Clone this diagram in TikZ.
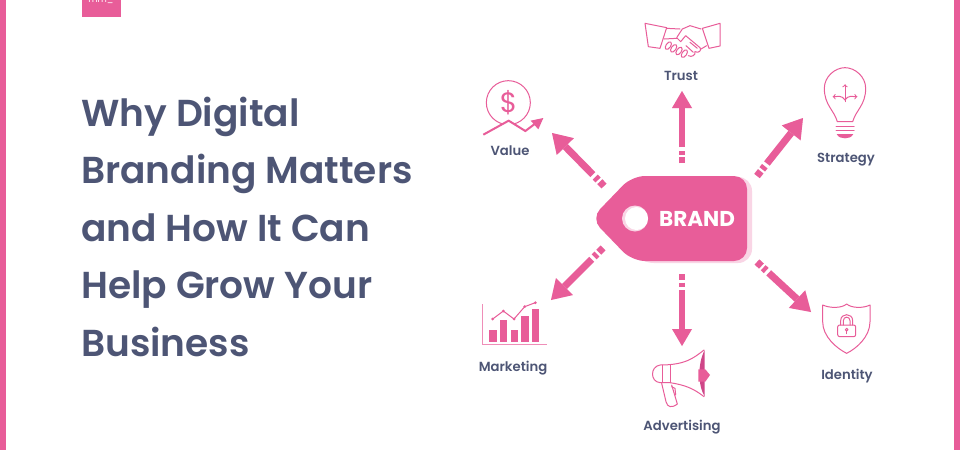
\documentclass[tikz,border=0pt]{standalone}
\usepackage{fontspec}
\setmainfont{Poppins}[BoldFont={Poppins SemiBold}]
\newfontfamily\brandbold{Poppins Bold}
\usetikzlibrary{calc}
\definecolor{brandpink}{HTML}{E85D99}
\definecolor{darkpink}{HTML}{CF4688}
\definecolor{paleshadow}{HTML}{F9D5E5}
\definecolor{slatetext}{HTML}{4D5575}
\tikzset{
  titletext/.style={anchor=base west,text=slatetext,font=\fontsize{37.5}{40}\selectfont\bfseries,inner sep=0pt},
  iconlabel/.style={anchor=base,text=slatetext,font=\fontsize{13.2}{15}\selectfont\bfseries,inner sep=0pt},
  iconline/.style={draw=brandpink,line width=1pt,line join=round,line cap=round},
  iconthin/.style={draw=brandpink,line width=1pt,line join=round,line cap=round},
  zoomed/.style={x=0.33333pt,y=-0.33333pt}
}
% tail, tip, colour, offset, shaft width, head half width, head length
\newcommand{\brandarrowlayer}[7]{%
  \coordinate (hb) at ($(#2)!#7!(#1)$);
  \coordinate (hl) at ($(hb)!#6!90:(#2)$);
  \coordinate (hr) at ($(hb)!#6!-90:(#2)$);
  \coordinate (s0) at ($(#1)!16pt!(#2)$);
  \coordinate (d1a) at ($(#1)!6pt!(#2)$);
  \coordinate (d1b) at ($(#1)!0pt!(#2)$);
  \coordinate (d2a) at ($(#1)!12.5pt!(#2)$);
  \coordinate (d2b) at ($(#1)!8.5pt!(#2)$);
  \fill[#3,shift={(#4)}] (#2) -- (hl) -- (hr) -- cycle;
  \draw[#3,line width=#5,shift={(#4)}] (s0) -- (hb);
  \draw[#3,line width=#5,shift={(#4)}] (d1b) -- (d1a);
  \draw[#3,line width=#5,shift={(#4)}] (d2b) -- (d2a);
}
\newcommand{\brandarrow}[6]{%
  \brandarrowlayer{#1}{#2}{paleshadow}{#3}{#4}{#5}{#6}
  \brandarrowlayer{#1}{#2}{brandpink}{0pt,0pt}{#4}{#5}{#6}
}
\begin{document}
\begin{tikzpicture}[x=1pt,y=-1pt]
\useasboundingbox (0,0) rectangle (960,450);
\fill[white] (0,0) rectangle (960,450);
\fill[brandpink] (0,0) rectangle (6,450);
\fill[brandpink] (954,0) rectangle (960,450);
% tab
\begin{scope}
\clip (82,0) rectangle (121,17);
\fill[brandpink] (82,0) rectangle (121,17);
\node[text=white,font=\fontsize{9}{10}\selectfont,inner sep=0pt] (tab) at (101,1) {mm\_};
\end{scope}
% title
\node[titletext] (t1) at (81,126) {Why Digital};
\node[titletext] (t2) at (81,183.5) {Branding Matters};
\node[titletext] (t3) at (81,241) {and How It Can};
\node[titletext] (t4) at (81,298.5) {Help Grow Your};
\node[titletext] (t5) at (81,356) {Business};
% arrows
\coordinate (trustTail) at (682,163); \coordinate (trustTip) at (682,91);
\coordinate (valueTail) at (604,186); \coordinate (valueTip) at (552,133);
\coordinate (stratTail) at (757,176); \coordinate (stratTip) at (803,118);
\coordinate (markTail) at (603,248); \coordinate (markTip) at (551,300);
\coordinate (advTail) at (682,274); \coordinate (advTip) at (682,346);
\coordinate (idTail) at (757,262); \coordinate (idTip) at (811,312);
\brandarrow{trustTail}{trustTip}{-3pt,0pt}{6pt}{10pt}{17pt}
\brandarrow{valueTail}{valueTip}{3pt,-2pt}{7pt}{12pt}{19pt}
\brandarrow{stratTail}{stratTip}{-3pt,2pt}{7pt}{12pt}{19pt}
\brandarrow{markTail}{markTip}{-3pt,-2pt}{7pt}{12pt}{19pt}
\brandarrow{advTail}{advTip}{-3pt,0pt}{6pt}{10pt}{17pt}
\brandarrow{idTail}{idTip}{-3pt,3pt}{7pt}{12pt}{19pt}
% tag
\fill[paleshadow,rounded corners=14pt] (598,218) -- (640,177) -- (752,177) -- (752,263) -- (640,263) -- cycle;
\fill[brandpink,rounded corners=13pt] (591,218.5) -- (632,176) -- (747,176) -- (747,261) -- (632,261) -- cycle;
\fill[paleshadow] (635,218.5) circle (13);
\fill[white] (636.5,218.5) circle (11.5);
\node[text=white,font=\fontsize{21.5}{24}\selectfont\brandbold,inner sep=0pt] (brand) at (697,218.5) {BRAND};
% labels
\node[iconlabel] (trust) at (681,80) {Trust};
\node[iconlabel] (value) at (510,155) {Value};
\node[iconlabel] (strategy) at (846,162) {Strategy};
\node[iconlabel] (marketing) at (513,371) {Marketing};
\node[iconlabel] (advertising) at (682,430) {Advertising};
\node[iconlabel] (identity) at (847,379) {Identity};
% value icon
\begin{scope}[shift={(460,0)},zoomed]
\draw[iconthin] (145,308) circle[radius=66];
\node[text=brandpink,font=\fontsize{28}{30}\selectfont,inner sep=0pt] (dollar) at (146,308) {\$};
\fill[white] (70,404) -- (146,362) -- (196,393) -- (232,366) -- (232,420) -- (70,420) -- cycle;
\draw[brandpink,line width=2pt,line join=miter] (70,404) -- (146,362) -- (196,393) -- (232,366);
\fill[brandpink] (250,354) -- (212,362) -- (235,388) -- cycle;
\end{scope}
% handshake
\begin{scope}[shift={(640,15)},zoomed]
\draw[iconthin] (15,25) -- (80,38) -- (60,100) -- (25,95) -- cycle;
\draw[iconthin] (187,40) -- (240,25) -- (240,93) -- (207,100) -- cycle;
\draw[iconthin] (80,40) -- (120,42);
\draw[iconthin] (183,42) -- (150,32) -- (127,42) -- (110,68) -- (122,80) -- (137,62) -- (180,98) .. controls (186,106) and (176,116) .. (165,110);
\draw[iconthin] (200,92) -- (183,102);
\draw[iconthin] (165,110) .. controls (168,120) and (155,128) .. (145,122);
\draw[iconthin] (150,82) -- (172,100);
\draw[iconthin] (138,92) -- (160,112);
\draw[iconthin] (72,72) -- (110,70);
\foreach \fx/\fy in {85/92,101/100,117/108,133/116} {
  \draw[iconthin,fill=white] (\fx,\fy) ellipse[x radius=7,y radius=13,rotate=-35];
}
\end{scope}
% bulb
\begin{scope}[shift={(710,50)},zoomed]
\draw[iconline] (382,215) .. controls (372,180) and (343,165) .. (343,115) .. controls (343,80) and (375,53) .. (405,53) .. controls (435,53) and (467,80) .. (467,115) .. controls (467,165) and (438,180) .. (428,215) -- cycle;
\draw[iconline] (378,230) -- (432,230);
\draw[iconline] (378,242) -- (432,242);
\fill[brandpink] (380,252) -- (430,252) .. controls (425,262) and (415,265) .. (405,265) .. controls (395,265) and (385,262) .. (380,252) -- cycle;
\draw[iconthin,->] (405,155) -- (405,103);
\draw[iconthin,->] (405,150) .. controls (395,135) and (385,140) .. (368,140);
\draw[iconthin,->] (405,150) .. controls (415,135) and (425,140) .. (442,140);
\end{scope}
% marketing
\begin{scope}[shift={(460,290)},zoomed]
\draw[draw=brandpink!70,line width=0.8pt] (68,42) -- (68,163) -- (262,163);
\foreach \bx/\by in {88/120,120/90,152/120,184/78,215/56} {
  \fill[brandpink] (\bx,\by) rectangle ++(22,157-\by);
}
\draw[iconthin] (98,87) -- (130,63) -- (162,87) -- (194,50) -- (226,38);
\foreach \px/\py in {98/87,130/63,162/87,194/50,226/38} {
  \fill[brandpink] (\px,\py) circle[radius=4.5];
}
\end{scope}
% advertising
\begin{scope}[shift={(630,330)},zoomed]
\fill[darkpink] (224,60) .. controls (203,100) and (203,165) .. (224,200) -- cycle;
\fill[brandpink] (205,118) -- (226,118) -- (240,135) -- (226,155) -- (205,155) -- cycle;
\draw[iconline] (222,60) .. controls (190,85) and (165,105) .. (90,105) .. controls (60,110) and (60,155) .. (90,158) -- (120,158) .. controls (165,165) and (190,175) .. (222,200);
\draw[iconline] (98,105) -- (98,158);
\draw[iconline] (120,105) -- (120,158);
\draw[iconline] (95,160) -- (108,215) .. controls (112,232) and (125,235) .. (142,222) -- (125,165);
\draw[iconthin] (125,170) -- (135,175) -- (137,195);
\end{scope}
% identity
\begin{scope}[shift={(790,290)},zoomed]
\draw[iconline] (170,42) .. controls (155,55) and (120,55) .. (98,45) -- (98,95) .. controls (98,140) and (140,175) .. (170,190) .. controls (200,175) and (240,140) .. (240,95) -- (240,45) .. controls (220,55) and (185,55) .. (170,42) -- cycle;
\draw[iconline,rounded corners=2pt] (143,105) rectangle (197,140);
\draw[iconline] (152,105) -- (152,92) .. controls (152,68) and (188,68) .. (188,92) -- (188,105);
\draw[iconthin] (160,105) -- (160,92) .. controls (160,78) and (180,78) .. (180,92) -- (180,105);
\draw[iconthin] (170,119) circle[radius=4];
\draw[iconthin] (170,123) -- (170,131);
\end{scope}
\end{tikzpicture}
\end{document}
